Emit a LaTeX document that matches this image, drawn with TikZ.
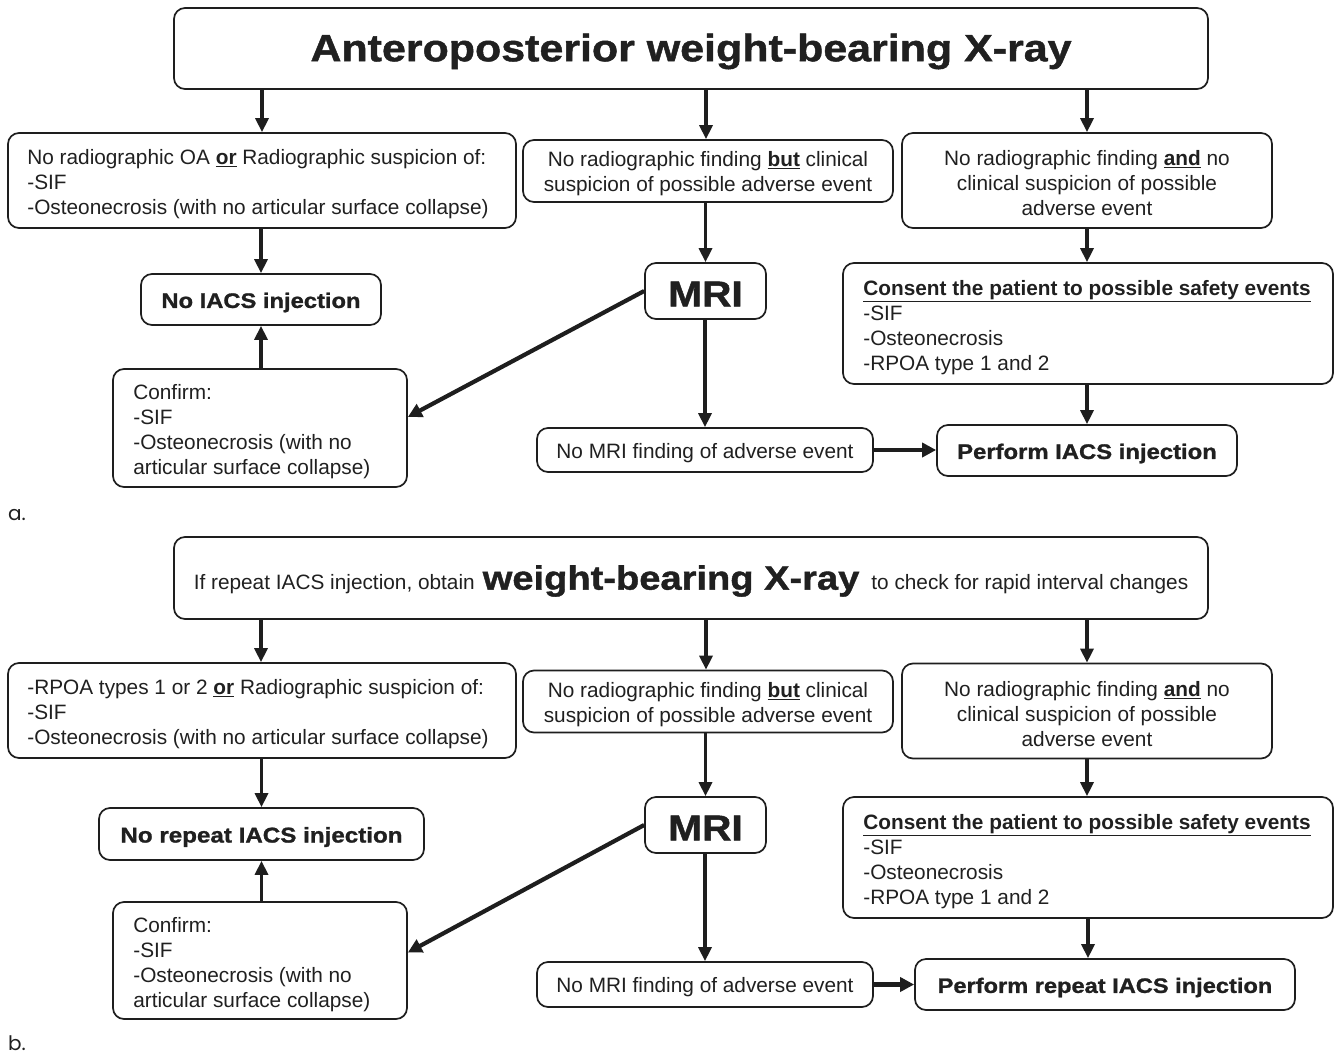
\documentclass[tikz,border=0pt]{standalone}
\usepackage{fontspec}
\setmainfont{Liberation Sans}
\newfontfamily\hb{Liberation Sans}[FakeStretch=1.13,FakeBold=1.2]
\newfontfamily\lab{Poppins}
\usetikzlibrary{arrows.meta}
\definecolor{ln}{HTML}{1E1E1E}
\definecolor{tx}{HTML}{202020}
\newcommand{\fs}{\fontsize{20.8}{25}\selectfont}
\newcommand{\fb}[1]{\hb\bfseries\fontsize{#1}{#1}\selectfont}
\newcommand{\ub}[1]{\underline{\textbf{#1}}}
\begin{document}
\begin{tikzpicture}[x=1pt,y=-1pt,
  base/.style={draw=ln, line width=1.7pt, rounded corners=11pt, inner sep=0pt, fill=white},
  cbox/.style 2 args={base, minimum width=#1pt, minimum height=#2pt},
  ctxt/.style={inner sep=0pt, text=tx, font=\fs, align=center, yshift=-3pt},
  txt/.style={inner sep=0pt, text=tx, font=\fs, align=left, anchor=west, yshift=-4pt},
  arr/.style={draw=ln, line width=3.2pt, -{Triangle[length=14pt,width=13pt]}},
  thickarr/.style={draw=ln, line width=4.2pt, -{Triangle[length=14pt,width=14pt]}},
  plab/.style={inner sep=0pt, anchor=west, text=tx, font=\lab\fontsize{20}{22}\selectfont}
]
\useasboundingbox[fill=white] (0,0) rectangle (1336,1055);

% ---------------- panel a ----------------
\node[cbox={1034}{81}] (top) at (691,48.5) {};
\node[ctxt] (topt) at (top.center) {\fb{38}Anteroposterior weight-bearing X-ray};
\node[cbox={508}{95}] (l1) at (262,180.5) {};
\node[txt] (l1t) at ([xshift=20pt]l1.west) {No radiographic OA \ub{or} Radiographic suspicion of:\\-SIF\\-Osteonecrosis (with no articular surface collapse)};
\node[cbox={370}{62}] (m1) at (708,171) {};
\node[ctxt] (m1t) at (m1.center) {No radiographic finding \ub{but} clinical\\suspicion of possible adverse event};
\node[cbox={370}{95}] (r1) at (1087,180.5) {};
\node[ctxt] (r1t) at (r1.center) {No radiographic finding \ub{and} no\\clinical suspicion of possible\\adverse event};
\node[cbox={240}{51}] (noi) at (261,299.5) {};
\node[ctxt] (noit) at (noi.center) {\fb{21}No IACS injection};
\node[cbox={294}{118}] (conf) at (260,428) {};
\node[txt] (conft) at ([xshift=21pt]conf.west) {Confirm:\\-SIF\\-Osteonecrosis (with no\\articular surface collapse)};
\node[cbox={121}{56}] (mri) at (705.5,291) {};
\node[ctxt] (mrit) at (mri.center) {\fb{36}MRI};
\node[cbox={336}{44}] (nomri) at (705,450) {};
\node[ctxt] (nomrit) at (nomri.center) {No MRI finding of adverse event};
\node[cbox={300}{51}] (perf) at (1087,450.5) {};
\node[ctxt] (perft) at (perf.center) {\fb{21.1}Perform IACS injection};
\node[cbox={490}{121}] (cons) at (1088,323.5) {};
\node[txt] (const) at ([xshift=21pt]cons.west) {\ub{Consent the patient to possible safety events}\\-SIF\\-Osteonecrosis\\-RPOA type 1 and 2};
\node[plab] (la) at (8,515) {a.};

\draw[arr] (l1.north |- top.south) -- (l1.north);
\draw[arr] (top.south -| 706,0) -- (m1.north -| 706,0);
\draw[arr] (top.south -| r1.north) -- (r1.north);
\draw[arr] (l1.south -| noi.north) -- (noi.north);
\draw[arr] (conf.north -| noi.south) -- (noi.south);
\draw[arr] (m1.south -| mri.north) -- (mri.north);
\draw[thickarr] (mri.west) -- ([yshift=11pt]conf.east);
\draw[arr] (mri.south -| nomri.north) -- (nomri.north);
\draw[thickarr] (nomri.east) -- (nomri.east -| perf.west);
\draw[arr] (r1.south) -- (r1.south |- cons.north);
\draw[arr] (cons.south -| perf.north) -- (perf.north);

% ---------------- panel b ----------------
\node[cbox={1034}{82}] (topb) at (691,578) {};
\node[ctxt] (topbt) at (topb.center) {{\fontsize{20.8}{25}\selectfont If repeat IACS injection, obtain}\hspace{8pt}{\fb{33.7}weight-bearing X-ray}\hspace{12pt}{\fontsize{20.8}{25}\selectfont to check for rapid interval changes}};
\node[cbox={508}{95}] (l1b) at (262,710.5) {};
\node[txt] (l1bt) at ([xshift=20pt]l1b.west) {-RPOA types 1 or 2 \ub{or} Radiographic suspicion of:\\-SIF\\-Osteonecrosis (with no articular surface collapse)};
\node[cbox={370}{62}] (m1b) at (708,701.5) {};
\node[ctxt] (m1bt) at (m1b.center) {No radiographic finding \ub{but} clinical\\suspicion of possible adverse event};
\node[cbox={370}{95}] (r1b) at (1087,711) {};
\node[ctxt] (r1bt) at (r1b.center) {No radiographic finding \ub{and} no\\clinical suspicion of possible\\adverse event};
\node[cbox={325}{52}] (noib) at (261.5,834) {};
\node[ctxt] (noibt) at (noib.center) {\fb{21.4}No repeat IACS injection};
\node[cbox={294}{117}] (confb) at (260,960.5) {};
\node[txt] (confbt) at ([xshift=21pt]confb.west) {Confirm:\\-SIF\\-Osteonecrosis (with no\\articular surface collapse)};
\node[cbox={121}{56}] (mrib) at (705.5,825) {};
\node[ctxt] (mribt) at (mrib.center) {\fb{36}MRI};
\node[cbox={336}{45}] (nomrib) at (705,984.5) {};
\node[ctxt] (nomribt) at (nomrib.center) {No MRI finding of adverse event};
\node[cbox={380}{51}] (perfb) at (1105,984.5) {};
\node[ctxt] (perfbt) at (perfb.center) {\fb{20.9}Perform repeat IACS injection};
\node[cbox={490}{121}] (consb) at (1088,857.5) {};
\node[txt] (consbt) at ([xshift=21pt]consb.west) {\ub{Consent the patient to possible safety events}\\-SIF\\-Osteonecrosis\\-RPOA type 1 and 2};
\node[plab] (lb) at (8,1043) {b.};

\draw[arr] (topb.south -| 261,0) -- (l1b.north -| 261,0);
\draw[arr] (topb.south -| 706,0) -- (m1b.north -| 706,0);
\draw[arr] (topb.south -| r1b.north) -- (r1b.north);
\draw[arr] (l1b.south -| noib.north) -- (noib.north);
\draw[arr] (confb.north -| noib.south) -- (noib.south);
\draw[arr] (m1b.south -| mrib.north) -- (mrib.north);
\draw[thickarr] (mrib.west) -- ([yshift=8pt]confb.east);
\draw[arr] (mrib.south -| nomrib.north) -- (nomrib.north);
\draw[thickarr] (nomrib.east) -- (nomrib.east -| perfb.west);
\draw[arr] (r1b.south) -- (r1b.south |- consb.north);
\draw[arr] (consb.south) -- (consb.south |- perfb.north);
\end{tikzpicture}
\end{document}
